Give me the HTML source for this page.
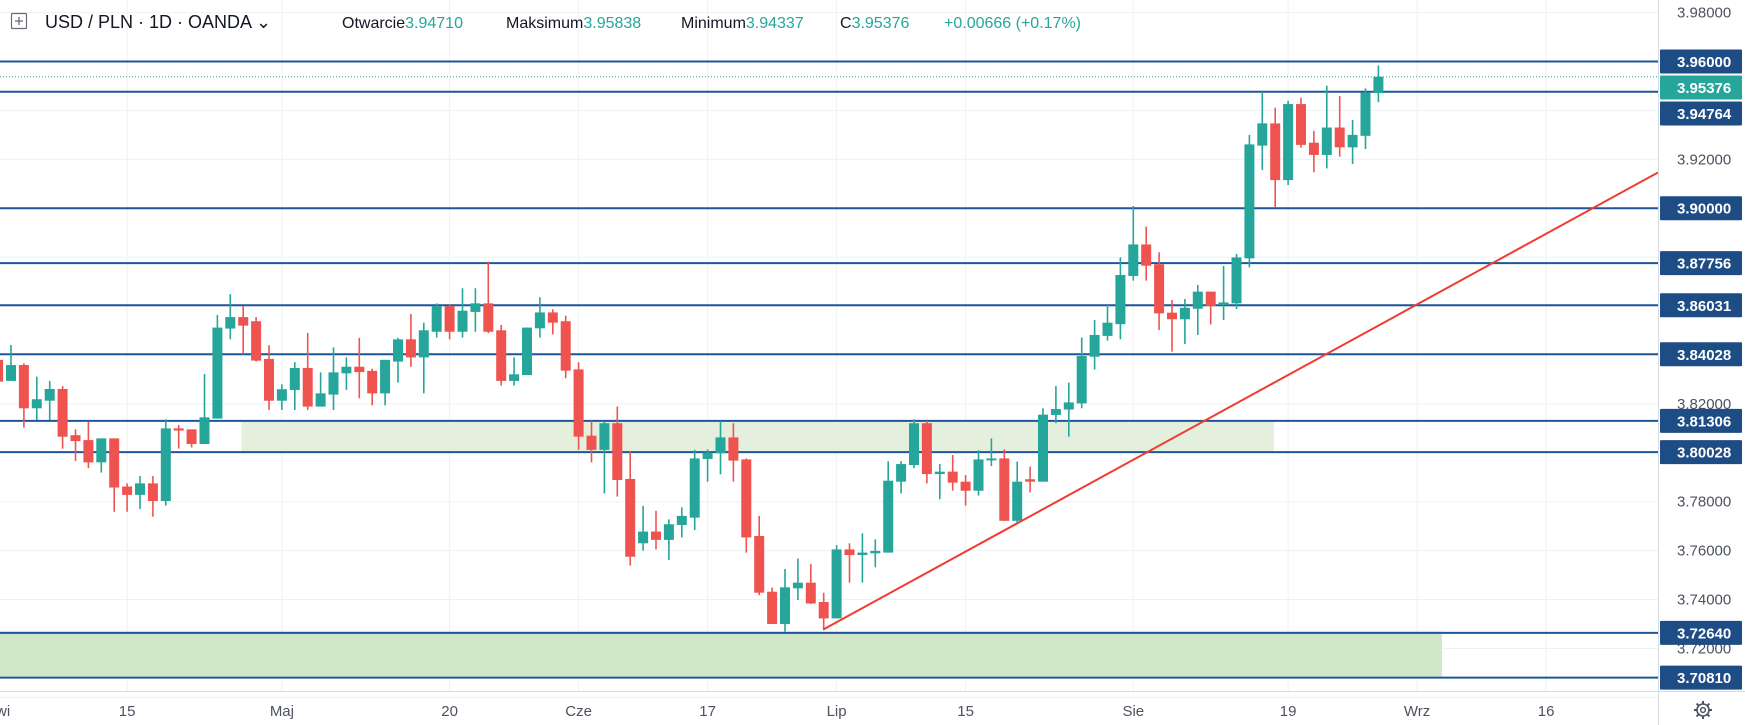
<!DOCTYPE html>
<html><head><meta charset="utf-8"><style>
html,body{margin:0;padding:0;background:#fff;width:1745px;height:725px;overflow:hidden}
svg{display:block;font-family:"Liberation Sans",sans-serif}
</style></head><body>
<svg id="chart" width="1745" height="725" viewBox="0 0 1745 725" xmlns="http://www.w3.org/2000/svg">
<g id="grid"></g>
<g id="zones">
<rect x="0" y="631.5" width="1442" height="45" fill="#d2e6c8"/>
<rect x="241.5" y="420.3" width="1032.5" height="31.2" fill="#e4efdd"/>
</g>
<g id="levels"></g>
<g id="candles"></g>
<line x1="823.3" y1="629.5" x2="1658" y2="172.5" stroke="#f23b30" stroke-width="2"/>
<line id="curline" x1="0" x2="1658" stroke="#26a69a" stroke-width="1" stroke-dasharray="1,2"/>
<g id="axis"></g>
<g id="taxis"></g>
<line x1="1658.5" y1="0" x2="1658.5" y2="725" stroke="#d6dae3" stroke-width="1"/>
<line x1="0" y1="691.5" x2="1745" y2="691.5" stroke="#d6dae3" stroke-width="1"/>
<g transform="translate(1703,710)">
<circle r="6" fill="none" stroke="#4c525e" stroke-width="1.6"/><circle r="2.4" fill="none" stroke="#4c525e" stroke-width="1.4"/>
<g stroke="#4c525e" stroke-width="2"><line x1="0" y1="-9" x2="0" y2="-6"/><line x1="0" y1="6" x2="0" y2="9"/><line x1="-9" y1="0" x2="-6" y2="0"/><line x1="6" y1="0" x2="9" y2="0"/><line x1="-6.4" y1="-6.4" x2="-4.3" y2="-4.3"/><line x1="4.3" y1="4.3" x2="6.4" y2="6.4"/><line x1="-6.4" y1="6.4" x2="-4.3" y2="4.3"/><line x1="4.3" y1="-4.3" x2="6.4" y2="-6.4"/></g>
</g>
<g font-size="16">
<g><rect x="11.5" y="13.5" width="15" height="15" fill="none" stroke="#6a6d78" stroke-width="1.2" rx="1"/><line x1="19" y1="17" x2="19" y2="25" stroke="#6a6d78" stroke-width="1.3"/><line x1="15" y1="21" x2="23" y2="21" stroke="#6a6d78" stroke-width="1.3"/></g>
<text x="45" y="28" font-size="18" fill="#131722">USD / PLN · 1D · OANDA ⌄</text>
<text x="342" y="28" fill="#131722">Otwarcie<tspan fill="#26a69a">3.94710</tspan></text>
<text x="506" y="28" fill="#131722">Maksimum<tspan fill="#26a69a">3.95838</tspan></text>
<text x="681" y="28" fill="#131722">Minimum<tspan fill="#26a69a">3.94337</tspan></text>
<text x="840" y="28" fill="#131722">C<tspan fill="#26a69a">3.95376</tspan></text>
<text x="944" y="28" fill="#26a69a">+0.00666 (+0.17%)</text>
</g>
</svg>
<script>
const opens=[3.8380,3.8294,3.8359,3.8182,3.8213,3.8261,3.8072,3.8052,3.7961,3.8059,3.7862,3.7828,3.7875,3.7803,3.8100,3.8096,3.8036,3.8140,3.8508,3.8555,3.8538,3.8384,3.8213,3.8257,3.8347,3.8189,3.8238,3.8325,3.8352,3.8335,3.8243,3.8373,3.8464,3.8390,3.8495,3.8600,3.8495,3.8576,3.8611,3.8501,3.8294,3.8318,3.8509,3.8574,3.8538,3.8341,3.8070,3.8012,3.8121,3.7893,3.7630,3.7678,3.7644,3.7705,3.7735,3.7975,3.7998,3.8063,3.7973,3.7660,3.7432,3.7300,3.7446,3.7469,3.7390,3.7323,3.7605,3.7582,3.7589,3.7592,3.7882,3.7950,3.8121,3.7913,3.7923,3.7882,3.7845,3.7969,3.7977,3.7722,3.7892,3.7882,3.8155,3.8177,3.8202,3.8393,3.8478,3.8526,3.8723,3.8852,3.8771,3.8573,3.8546,3.8589,3.8659,3.8604,3.8611,3.8795,3.9256,3.9347,3.9115,3.9426,3.9268,3.9218,3.9330,3.9249,3.9296,3.94710];
const highs=[3.8395,3.8441,3.8366,3.8311,3.8294,3.8273,3.8096,3.8127,3.8059,3.8059,3.7875,3.7905,3.7905,3.8137,3.8114,3.8096,3.8322,3.8564,3.8649,3.8600,3.8555,3.8440,3.8280,3.8371,3.8490,3.8329,3.8431,3.8390,3.8470,3.8344,3.8380,3.8470,3.8568,3.8532,3.8611,3.8605,3.8673,3.8673,3.8782,3.8523,3.8390,3.8512,3.8636,3.8587,3.8561,3.8370,3.8131,3.8127,3.8189,3.8005,3.7783,3.7763,3.7728,3.7777,3.8012,3.8014,3.8130,3.8121,3.7977,3.7742,3.7449,3.7525,3.7568,3.7545,3.7428,3.7623,3.7630,3.7671,3.7646,3.7966,3.7966,3.8137,3.8131,3.7954,3.7991,3.7909,3.8011,3.8059,3.8014,3.7964,3.7943,3.8182,3.8273,3.8287,3.8471,3.8543,3.8604,3.8799,3.9009,3.8925,3.8820,3.8625,3.8629,3.8686,3.8659,3.8764,3.8813,3.9300,3.9477,3.9411,3.9439,3.9452,3.9316,3.9501,3.9459,3.9361,3.9490,3.95838];
const lows=[3.8280,3.8294,3.8103,3.8134,3.8134,3.8017,3.7967,3.7937,3.7919,3.7759,3.7759,3.7770,3.7739,3.7784,3.8017,3.8022,3.8036,3.8140,3.8464,3.8403,3.8373,3.8175,3.8175,3.8175,3.8175,3.8189,3.8175,3.8257,3.8223,3.8194,3.8194,3.8287,3.8352,3.8243,3.8471,3.8464,3.8471,3.8495,3.8489,3.8275,3.8275,3.8318,3.8471,3.8484,3.8305,3.8012,3.7961,3.7834,3.7821,3.7539,3.7600,3.7605,3.7562,3.7654,3.7684,3.7882,3.7912,3.7882,3.7592,3.7418,3.7300,3.7269,3.7398,3.7382,3.7275,3.7323,3.7469,3.7469,3.7532,3.7592,3.7834,3.7937,3.7875,3.7810,3.7845,3.7784,3.7825,3.7946,3.7722,3.7709,3.7838,3.7882,3.8121,3.8066,3.8182,3.8341,3.8459,3.8464,3.8704,3.8704,3.8502,3.8414,3.8445,3.8482,3.8525,3.8543,3.8588,3.8758,3.9156,3.9002,3.9095,3.9248,3.9147,3.9163,3.9211,3.9181,3.9242,3.94337];
const closes=[3.8291,3.8359,3.8182,3.8219,3.8261,3.8066,3.8048,3.7961,3.8059,3.7858,3.7828,3.7875,3.7803,3.8100,3.8091,3.8036,3.8145,3.8512,3.8555,3.8520,3.8377,3.8213,3.8260,3.8347,3.8189,3.8243,3.8329,3.8352,3.8330,3.8243,3.8380,3.8464,3.8390,3.8501,3.8600,3.8495,3.8581,3.8611,3.8495,3.8294,3.8321,3.8512,3.8574,3.8532,3.8336,3.8066,3.8012,3.8121,3.7889,3.7575,3.7678,3.7644,3.7708,3.7742,3.7977,3.8001,3.8063,3.7968,3.7654,3.7428,3.7300,3.7450,3.7469,3.7384,3.7323,3.7605,3.7582,3.7592,3.7599,3.7886,3.7954,3.8121,3.7913,3.7923,3.7878,3.7845,3.7973,3.7977,3.7722,3.7882,3.7882,3.8156,3.8179,3.8206,3.8396,3.8482,3.8532,3.8727,3.8852,3.8765,3.8570,3.8546,3.8593,3.8659,3.8600,3.8615,3.8799,3.9261,3.9347,3.9115,3.9426,3.9259,3.9218,3.9330,3.9249,3.9300,3.9473,3.95376];
const levelPrices=[3.96,3.94764,3.90,3.87756,3.86031,3.84028,3.81306,3.80028,3.72640,3.70810];
const levelLabels=["3.96000","3.94764","3.90000","3.87756","3.86031","3.84028","3.81306","3.80028","3.72640","3.70810"];
const tickPrices=[3.98,3.92,3.82,3.78,3.76,3.74,3.72];
const tickLabels=["3.98000","3.92000","3.82000","3.78000","3.76000","3.74000","3.72000"];
const gridPrices=[3.98,3.96,3.94,3.92,3.90,3.88,3.86,3.84,3.82,3.80,3.78,3.76,3.74,3.72,3.70];
const timeIdx=[0,10,22,35,45,55,65,75,88,100,110,120];
const timeLabels=["Kwi","15","Maj","20","Cze","17","Lip","15","Sie","19","Wrz","16"];
const lastPrice=3.95376, lastLabel="3.95376";

const NS="http://www.w3.org/2000/svg";
function yS(p){return 61.5+(3.96-p)*2445.7;}
function xS(i){return -1.9+i*12.9;}
function mk(tag,attrs,parent){const e=document.createElementNS(NS,tag);for(const k in attrs)e.setAttribute(k,attrs[k]);parent.appendChild(e);return e;}

const grid=document.getElementById('grid');
gridPrices.forEach(p=>{const l=mk('line',{x1:0,x2:1658,y1:yS(p),y2:yS(p),stroke:'#eef1f6','stroke-width':1},grid);

});
timeIdx.forEach(i=>{const l=mk('line',{x1:xS(i),x2:xS(i),y1:0,y2:691,stroke:'#eef1f6','stroke-width':1},grid);

});

const lv=document.getElementById('levels');
levelPrices.forEach(p=>{const l=mk('line',{x1:0,x2:1658,y1:yS(p),y2:yS(p),stroke:'#1e5799','stroke-width':2},lv);

});

const cg=document.getElementById('candles');
for(let i=0;i<opens.length;i++){
  const up=closes[i]>=opens[i];const col=up?'#26a69a':'#ef5350';const x=xS(i);
  const w=mk('line',{x1:x,x2:x,y1:yS(highs[i]),y2:yS(lows[i]),stroke:col,'stroke-width':1.6},cg);
  
  
  const t=yS(Math.max(opens[i],closes[i])),b=yS(Math.min(opens[i],closes[i]));
  const r=mk('rect',{x:x-5,y:t,width:10,height:Math.max(1.5,b-t),fill:col},cg);
  
  
}
const cl=document.getElementById('curline');cl.setAttribute('y1',yS(lastPrice));cl.setAttribute('y2',yS(lastPrice));

const ax=document.getElementById('axis');
tickPrices.forEach((p,k)=>{const t=mk('text',{x:1677,y:yS(p)+5,'font-size':15,fill:'#4c525e'},ax);t.textContent=tickLabels[k];

});
// collect boxes, resolve overlaps (push down)
const boxes=levelPrices.map((p,k)=>({y:yS(p),label:levelLabels[k],color:'#1e4c85',name:'level-price-label'}));
boxes.push({y:yS(lastPrice),label:lastLabel,color:'#26a69a',name:'last-price-label'});
boxes.sort((a,b)=>a.y-b.y);
for(let k=1;k<boxes.length;k++){if(boxes[k].y<boxes[k-1].y+26)boxes[k].y=boxes[k-1].y+26;}
boxes.forEach(bx=>{
  const r=mk('rect',{x:1660,y:bx.y-12,width:82,height:24,fill:bx.color,rx:1},ax);
  
  
  const t=mk('text',{x:1677,y:bx.y+5.5,'font-size':15,'font-weight':'bold',fill:'#fff'},ax);t.textContent=bx.label;
  
  
});

const ta=document.getElementById('taxis');
timeIdx.forEach((i,k)=>{const t=mk('text',{x:xS(i),y:716,'font-size':15,fill:'#4c525e','text-anchor':'middle'},ta);t.textContent=timeLabels[k];

});
</script>
</body></html>
